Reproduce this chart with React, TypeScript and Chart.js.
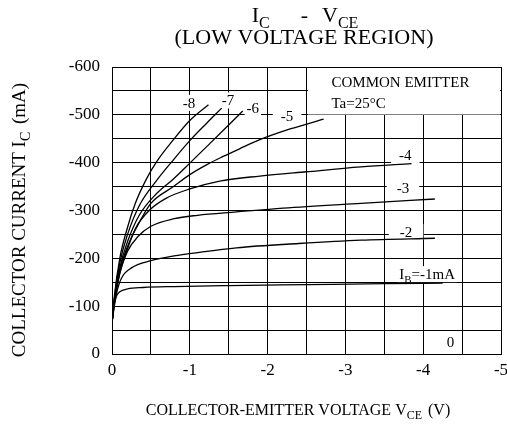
import React, { useEffect, useRef } from "react";
import { Chart, registerables } from "chart.js";

Chart.register(...registerables);

// ---- data (VCE in V, IC in mA) ----
const vceIb1 = [0, -0.02, -0.05, -0.1, -0.2, -0.4, -0.8, -1.5, -2.5, -3.5, -4.25];
const icIb1 = [-65, -95, -118, -130, -136, -139, -141, -143, -145, -147, -148];

const vceIb2 = [0, -0.03, -0.06, -0.12, -0.25, -0.5, -0.8, -1.1, -1.6, -2.4, -3.2, -4.15];
const icIb2 = [-65, -100, -128, -158, -180, -195, -205, -212, -222, -231, -238, -242];

const vceIb3 = [0, -0.03, -0.07, -0.12, -0.2, -0.33, -0.5, -0.8, -1.1, -1.6, -2.2, -3.2, -4.15];
const icIb3 = [-65, -105, -145, -180, -215, -245, -267, -283, -290, -297, -305, -315, -324];

const vceIb4 = [0, -0.03, -0.1, -0.2, -0.3, -0.49, -0.7, -1.0, -1.4, -1.9, -2.5, -3.2, -3.85];
const icIb4 = [-65, -108, -170, -220, -262, -302, -326, -345, -362, -372, -381, -391, -398];

const vceIb5 = [0, -0.03, -0.1, -0.2, -0.35, -0.5, -0.79, -1.0, -1.22, -1.43, -1.64, -1.9, -2.3, -2.72];
const icIb5 = [-65, -110, -175, -225, -275, -315, -350, -375, -396, -413, -429, -448, -471, -491];

const vceIb6 = [0, -0.03, -0.1, -0.2, -0.35, -0.57, -0.79, -1.0, -1.22, -1.47, -1.68];
const icIb6 = [-65, -112, -180, -235, -290, -335, -366, -399, -434, -474, -508];

const vceIb7 = [0, -0.03, -0.1, -0.2, -0.35, -0.57, -0.79, -1.0, -1.22, -1.41];
const icIb7 = [-65, -115, -190, -250, -310, -362, -406, -446, -483, -514];

const vceIb8 = [0, -0.03, -0.1, -0.2, -0.3, -0.44, -0.57, -0.79, -1.0, -1.24];
const icIb8 = [-65, -120, -200, -265, -315, -365, -401, -448, -488, -521];

const curveVce = [vceIb1, vceIb2, vceIb3, vceIb4, vceIb5, vceIb6, vceIb7, vceIb8];
const curveIc = [icIb1, icIb2, icIb3, icIb4, icIb5, icIb6, icIb7, icIb8];

// curve labels (text, anchor in data units)
const labelText = ["-8", "-7", "-6", "-5", "-4", "-3", "-2", "I_B=-1mA", "0"];
const labelVce = [-0.99, -1.49, -1.81, -2.25, -3.77, -3.74, -3.78, -4.05, -4.35];
const labelIc = [-525, -530, -515, -497, -416, -347, -255, -167, -26];
const labelPadX = [2, 2, 2, 8, 8, 10, 11, 2, -1];

// axis
const xMin = -5;
const xMax = 0;
const xStep = 0.5;
const yMin = -600;
const yMax = 0;
const yStep = 50;

// condition box (corner in data units)
const boxVce = -2.5;
const boxIc = -500;
const boxLines = ["COMMON EMITTER", "Ta=25°C"];

const FAMILY = "'Liberation Serif', 'Times New Roman', serif";

type Seg = { t: string; sub?: boolean; gap?: number };

function parseSegs(s: string): Seg[] {
  const k = s.indexOf("_");
  if (k < 0) return [{ t: s }];
  return [{ t: s.slice(0, k) }, { t: s.slice(k + 1, k + 2), sub: true }, { t: s.slice(k + 2) }];
}

function segFont(size: number, sub?: boolean) {
  return `${sub ? Math.round(size * 0.72) : size}px ${FAMILY}`;
}

function richWidth(ctx: CanvasRenderingContext2D, segs: Seg[], size: number) {
  let w = 0;
  for (const s of segs) {
    ctx.font = segFont(size, s.sub);
    w += ctx.measureText(s.t).width + (s.gap || 0);
  }
  return w;
}

function drawRich(
  ctx: CanvasRenderingContext2D,
  segs: Seg[],
  x: number,
  y: number,
  size: number,
  align: "left" | "center"
) {
  const w = richWidth(ctx, segs, size);
  let cx = align === "center" ? x - w / 2 : x;
  ctx.textAlign = "left";
  ctx.textBaseline = "alphabetic";
  for (const s of segs) {
    cx += s.gap || 0;
    ctx.font = segFont(size, s.sub);
    ctx.fillText(s.t, cx, s.sub ? y + size * 0.28 : y);
    cx += ctx.measureText(s.t).width;
  }
  return w;
}

const annotatePlugin = {
  id: "annotate",
  beforeDatasetsDraw(chart: any) {
    const { ctx, chartArea } = chart;
    const xs = chart.scales.x;
    const ys = chart.scales.y;
    ctx.save();
    // condition box
    const bl = xs.getPixelForValue(boxVce);
    const bb = ys.getPixelForValue(boxIc);
    ctx.fillStyle = "#fff";
    ctx.fillRect(Math.round(bl) + 1, chartArea.top + 1, chartArea.right - Math.round(bl) - 2, Math.round(bb) - chartArea.top - 1.5);
    ctx.fillStyle = "#000";
    ctx.font = `15px ${FAMILY}`;
    ctx.textAlign = "left";
    ctx.textBaseline = "alphabetic";
    ctx.fillText(boxLines[0], bl + 25, chartArea.top + 19.5);
    ctx.fillText(boxLines[1], bl + 25, chartArea.top + 41);

    // curve labels
    for (let k = 0; k < labelText.length; k++) {
      const segs = parseSegs(labelText[k]);
      const px = xs.getPixelForValue(labelVce[k]);
      const py = ys.getPixelForValue(labelIc[k]);
      const w = richWidth(ctx, segs, 15);
      if (labelPadX[k] >= 0) {
        ctx.fillStyle = "#fff";
        ctx.fillRect(px - w / 2 - labelPadX[k], py - 8, w + 2 * labelPadX[k], 16);
      }
      ctx.fillStyle = "#000";
      drawRich(ctx, segs, px, py + 5, 15, "center");
    }
    ctx.restore();
  },
  afterDraw(chart: any) {
    const { ctx } = chart;
    ctx.save();
    ctx.fillStyle = "#000";
    // title
    drawRich(
      ctx,
      [{ t: "I" }, { t: "C", sub: true }, { t: "-", gap: 31 }, { t: "V", gap: 14 }, { t: "CE", sub: true }],
      305,
      21.5,
      22,
      "center"
    );
    drawRich(ctx, [{ t: "(LOW VOLTAGE REGION)" }], 304, 44, 22, "center");
    // x axis title
    drawRich(
      ctx,
      [{ t: "COLLECTOR-EMITTER VOLTAGE V" }, { t: "CE", sub: true }, { t: " (V)", gap: 2 }],
      298,
      415,
      16,
      "center"
    );
    // y axis title (rotated)
    ctx.translate(25, 220);
    ctx.rotate(-Math.PI / 2);
    drawRich(ctx, [{ t: "COLLECTOR CURRENT I" }, { t: "C", sub: true }, { t: " (mA)", gap: 3 }], 0, 0, 19, "center");
    ctx.restore();
  },
};

export default function App() {
  const ref = useRef<HTMLCanvasElement | null>(null);

  useEffect(() => {
    if (!ref.current) return;
    const datasets = curveVce.map((v, n) => ({
      label: `IB=-${n + 1}mA`,
      data: v.map((vv, k) => ({ x: vv, y: curveIc[n][k] })),
      showLine: true,
      borderColor: "#000",
      borderWidth: 1.3,
      pointRadius: 0,
      fill: false,
      cubicInterpolationMode: "monotone" as const,
    }));

    const chart = new Chart(ref.current, {
      type: "scatter",
      data: { datasets },
      options: {
        animation: false,
        responsive: false,
        devicePixelRatio: 1,
        layout: { padding: { top: 67, right: 6, left: 0, bottom: 0 } },
        plugins: { legend: { display: false }, tooltip: { enabled: false }, title: { display: false } },
        scales: {
          x: {
            type: "linear",
            min: xMin,
            max: xMax,
            reverse: true,
            afterFit: (s: any) => {
              s.height = 75;
              s.paddingLeft = 0;
              s.paddingRight = 0;
            },
            ticks: {
              stepSize: xStep,
              autoSkip: false,
              maxRotation: 0,
              padding: 6,
              color: "#000",
              font: { family: FAMILY, size: 17 },
              callback: (val: any) => (Math.abs(val - Math.round(val)) < 1e-9 ? String(Math.round(val)) : ""),
            },
            grid: { color: "#000", lineWidth: 1, drawTicks: false },
            border: { color: "#000", width: 1 },
          },
          y: {
            type: "linear",
            min: yMin,
            max: yMax,
            reverse: true,
            afterFit: (s: any) => {
              s.width = 112;
              s.paddingTop = 0;
              s.paddingBottom = 0;
            },
            ticks: {
              stepSize: yStep,
              autoSkip: false,
              padding: 12,
              color: "#000",
              font: { family: FAMILY, size: 17 },
              callback: (val: any) => (Math.round(val) % 100 === 0 ? String(Math.round(val)) : ""),
            },
            grid: { color: "#000", lineWidth: 1, drawTicks: false },
            border: { color: "#000", width: 1 },
          },
        },
      },
      plugins: [annotatePlugin],
    });
    return () => chart.destroy();
  }, []);

  return (
    <div style={{ position: "absolute", left: 0, top: 0, width: 507, height: 429, background: "#fff" }}>
      <canvas ref={ref} width={507} height={429} style={{ display: "block", width: 507, height: 429 }} />
    </div>
  );
}
